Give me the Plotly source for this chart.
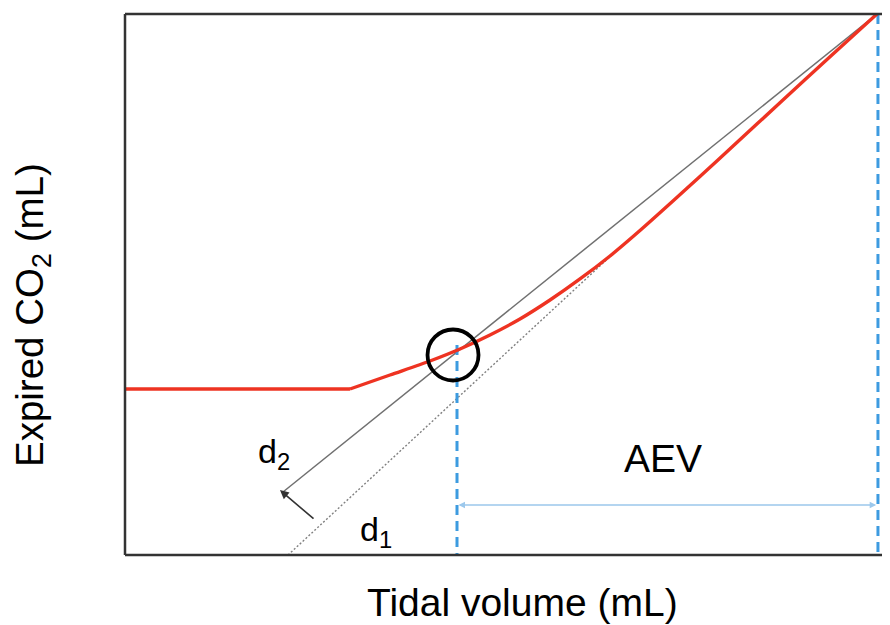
import plotly.graph_objects as go

# Red expired CO2 curve (arbitrary units; x: tidal volume, y: expired CO2)
flat_x = [0, 29.41]
flat_y = [30.68, 30.68]
curve_x = [29.41, 34.64, 39.87, 43.79, 47.71, 51.63, 55.56, 59.48, 63.40,
           67.32, 71.63, 75.16, 79.35, 85.62, 92.16, 98.30]
curve_y = [30.68, 33.27, 35.86, 38.08, 40.67, 43.62, 47.13, 51.02, 55.27,
           59.98, 65.43, 69.98, 75.42, 83.59, 92.09, 100.0]

# Solid gray line (d2) and dotted tangent line (d1)
line2_x = [20.65, 98.30]
line2_y = [11.65, 100]
line1_x = [21.31, 63.9]
line1_y = [0, 55.8]

# Inflection point (circle)
circle_x = [42.88]
circle_y = [36.97]

# Blue dashed verticals
vline1_x = [43.40, 43.40]
vline1_y = [38.8, 0]
vline2_x = [98.43, 98.43]
vline2_y = [100, 0]

# AEV arrow
aev_y = 9.24
aev_x0, aev_x1 = 43.40, 98.2

# d2 arrow (head, tail)
d2_head = (20.26, 12.0)
d2_tail = (24.84, 6.47)

FONT = "Liberation Sans, Arial, sans-serif"
BLUE = "#3d9be0"

fig = go.Figure()
fig.add_trace(go.Scatter(x=line1_x, y=line1_y, mode="lines",
                         line=dict(color="#808080", width=1.4, dash="2px,2px")))
fig.add_trace(go.Scatter(x=line2_x, y=line2_y, mode="lines",
                         line=dict(color="#707070", width=1.5)))
fig.add_trace(go.Scatter(x=vline1_x, y=vline1_y, mode="lines",
                         line=dict(color=BLUE, width=3, dash="10px,6px")))
fig.add_trace(go.Scatter(x=vline2_x, y=vline2_y, mode="lines",
                         line=dict(color=BLUE, width=3, dash="10px,6px")))
fig.add_trace(go.Scatter(x=flat_x, y=flat_y, mode="lines",
                         line=dict(color="#ee3322", width=3.4)))
fig.add_trace(go.Scatter(x=curve_x, y=curve_y, mode="lines",
                         line=dict(color="#ee3322", width=3.4, shape="spline", smoothing=0.8)))
fig.add_trace(go.Scatter(x=circle_x, y=circle_y, mode="markers",
                         marker=dict(symbol="circle-open", size=51,
                                     line=dict(color="black", width=3.8), color="black")))

annotations = [
    dict(x=aev_x1, y=aev_y, ax=aev_x0, ay=aev_y, xref="x", yref="y", axref="x", ayref="y",
         text="", showarrow=True, arrowhead=2, arrowside="end+start", arrowsize=1,
         arrowwidth=1.3, arrowcolor="#9cc8ec"),
    dict(x=d2_head[0], y=d2_head[1], ax=d2_tail[0], ay=d2_tail[1], xref="x", yref="y",
         axref="x", ayref="y", text="", showarrow=True, arrowhead=2, arrowsize=1.1,
         arrowwidth=1.6, arrowcolor="#333333"),
    dict(x=70.33, y=17.93, xref="x", yref="y", text="AEV", showarrow=False,
         font=dict(family=FONT, size=39, color="black")),
    dict(x=19.5, y=18.8, xref="x", yref="y", text="d<sub>2</sub>", showarrow=False,
         font=dict(family=FONT, size=34, color="black")),
    dict(x=32.8, y=4.4, xref="x", yref="y", text="d<sub>1</sub>", showarrow=False,
         font=dict(family=FONT, size=34, color="black")),
    dict(x=0.5136, y=-0.0887, xref="paper", yref="paper", text="Tidal volume (mL)",
         showarrow=False, yanchor="middle", xanchor="center",
         font=dict(family=FONT, size=39, color="black")),
    dict(x=-0.1203, y=0.4436, xref="paper", yref="paper", text="Expired CO<sub>2</sub> (mL)",
         showarrow=False, textangle=-90, yanchor="middle", xanchor="center",
         font=dict(family=FONT, size=38.5, color="black")),
]

frame = dict(color="#333333", width=2.5)
shapes = [
    dict(type="line", xref="paper", yref="paper", x0=0, x1=0, y0=0, y1=1, line=frame),
    dict(type="line", xref="paper", yref="paper", x0=0, x1=1, y0=1, y1=1, line=frame),
    dict(type="line", xref="paper", yref="paper", x0=0, x1=1, y0=0, y1=0, line=frame),
]

fig.update_layout(
    width=890, height=625,
    margin=dict(l=117, r=0, t=6, b=78),
    paper_bgcolor="white", plot_bgcolor="white",
    showlegend=False,
    annotations=annotations,
    shapes=shapes,
    xaxis=dict(range=[0, 101.05], showgrid=False, zeroline=False, showticklabels=False,
               ticks="", showline=False, fixedrange=True),
    yaxis=dict(range=[0, 100], showgrid=False, zeroline=False, showticklabels=False,
               ticks="", showline=False, fixedrange=True),
)

fig.write_html("out.html")
